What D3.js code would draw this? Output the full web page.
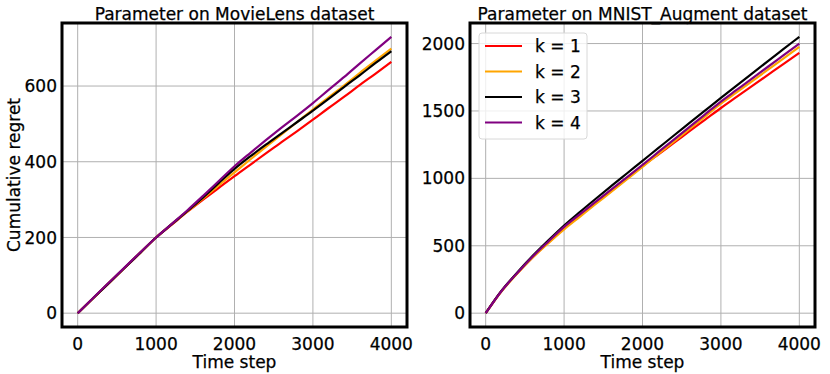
<!DOCTYPE html>
<html>
<head>
<meta charset="UTF-8">
<script src="https://d3js.org/d3.v7.min.js"></script>
<style>
body{ margin:0; background:white; }
svg text{ font-family: "DejaVu Sans", sans-serif; fill: black; stroke: black; stroke-width: 0.25px; }
</style>
</head>
<body>
<svg width="830" height="374"></svg>
<script>
// time steps, one every 200
const steps = d3.range(0, 4001, 200)

const labels = ["k = 1", "k = 2", "k = 3", "k = 4"]
const colors = ["red", "orange", "black", "purple"]

// MovieLens, cumulative regret
const movieK1 = [0, 40, 80, 120, 160, 200, 234, 268, 300, 331, 362, 392, 422, 452, 481, 511, 542, 572, 603, 633, 664]
const movieK2 = [0, 40, 80, 120, 160, 200, 235, 269, 303, 338, 372, 406, 439, 472, 505, 538, 570, 602, 635, 667, 699]
const movieK3 = [0, 40, 80, 120, 160, 200, 235, 270, 306, 344, 381, 414, 445, 475, 505, 535, 566, 598, 629, 661, 692]
const movieK4 = [0, 41, 81, 121, 161, 200, 236, 272, 310, 349, 388, 423, 457, 490, 522, 555, 590, 624, 660, 695, 730]

// MNIST_Augment, cumulative regret
const mnistK1 = [0, 163, 294, 415, 525, 630, 722, 814, 906, 998, 1090, 1177, 1263, 1350, 1436, 1522, 1604, 1686, 1768, 1850, 1931]
const mnistK2 = [0, 160, 292, 413, 520, 622, 715, 808, 900, 993, 1085, 1179, 1273, 1367, 1460, 1554, 1638, 1722, 1806, 1890, 1975]
const mnistK3 = [0, 165, 300, 425, 540, 650, 750, 847, 942, 1036, 1130, 1224, 1318, 1411, 1504, 1597, 1688, 1779, 1870, 1960, 2050]
const mnistK4 = [0, 163, 297, 420, 532, 640, 733, 825, 917, 1008, 1100, 1194, 1288, 1382, 1476, 1570, 1656, 1742, 1828, 1914, 2000]

const xTicks = [0, 1000, 2000, 3000, 4000]
const movieYTicks = [0, 200, 400, 600]
const mnistYTicks = [0, 500, 1000, 1500, 2000]

const svg = d3.select("svg")

function panel(left, title, series, yTicks, ylabel, legend){
	let w = 345, top = 23, h = 304
	let g = svg.append("g").attr("transform", "translate(" + left + "," + top + ")")

	// matplotlib style 5% margins
	let xPad = (steps[steps.length-1] - steps[0]) * 0.05
	let all = [].concat(...series)
	let yMax = d3.max(all), yMin = d3.min(all)
	let yPad = (yMax - yMin) * 0.05

	let x = d3.scaleLinear().domain([steps[0] - xPad, steps[steps.length-1] + xPad]).range([0, w])
	let y = d3.scaleLinear().domain([yMin - yPad, yMax + yPad]).range([h, 0])

	// grid
	g.selectAll(".vgrid").data(xTicks).join("line")
		.attr("x1", d => x(d)).attr("x2", d => x(d))
		.attr("y1", 0).attr("y2", h)
		.style("stroke", "#b0b0b0").style("stroke-width", 1)
	g.selectAll(".hgrid").data(yTicks).join("line")
		.attr("y1", d => y(d)).attr("y2", d => y(d))
		.attr("x1", 0).attr("x2", w)
		.style("stroke", "#b0b0b0").style("stroke-width", 1)

	let line = d3.line().x((d, i) => x(steps[i])).y(d => y(d)).curve(d3.curveMonotoneX)

	g.selectAll(".series").data(series).join("path")
		.attr("d", d => line(d))
		.style("fill", "none")
		.style("stroke", (d, i) => colors[i])
		.style("stroke-width", 2.2)
		.style("stroke-linejoin", "round")

	// tick labels
	g.selectAll(".xlab").data(xTicks).join("text")
		.attr("x", d => x(d)).attr("y", h + 22.5)
		.attr("text-anchor", "middle")
		.style("font-size", "17px")
		.text(d => d)
	g.selectAll(".ylab").data(yTicks).join("text")
		.attr("x", -5).attr("y", d => y(d))
		.attr("dy", "0.36em")
		.attr("text-anchor", "end")
		.style("font-size", "17px")
		.text(d => d)

	// title and axis labels
	svg.append("text")
		.attr("x", left + w / 2).attr("y", 19.5)
		.attr("text-anchor", "middle")
		.style("font-size", "17px")
		.text(title)

	g.append("text")
		.attr("x", w / 2).attr("y", h + 41)
		.attr("text-anchor", "middle")
		.style("font-size", "17px")
		.text("Time step")

	if (ylabel){
		g.append("text")
			.attr("transform", "translate(" + (-42) + "," + (h / 2) + ") rotate(-90)")
			.attr("text-anchor", "middle")
			.style("font-size", "17px")
			.text(ylabel)
	}

	if (legend){
		let lg = g.append("g").attr("transform", "translate(9,10)")
		lg.append("rect")
			.attr("width", 108).attr("height", 106)
			.attr("rx", 3)
			.style("fill", "white").style("fill-opacity", 0.8)
			.style("stroke", "#d8d8d8").style("stroke-width", 1)
		labels.forEach(function(l, i){
			let yy = 13 + i * 25.5
			lg.append("line")
				.attr("x1", 6).attr("x2", 43).attr("y1", yy).attr("y2", yy)
				.style("stroke", colors[i]).style("stroke-width", 2.2)
			lg.append("text")
				.attr("x", 56).attr("y", yy).attr("dy", "0.36em")
				.style("font-size", "17px")
				.text(l)
		})
	}

	// thick frame on top
	g.append("rect")
		.attr("x", 0).attr("y", 0).attr("width", w).attr("height", h)
		.style("fill", "none").style("stroke", "black").style("stroke-width", 3)
}

panel(62, "Parameter on MovieLens dataset", [movieK1, movieK2, movieK3, movieK4], movieYTicks, "Cumulative regret", false)
panel(470, "Parameter on MNIST_Augment dataset", [mnistK1, mnistK2, mnistK3, mnistK4], mnistYTicks, null, true)
</script>
</body>
</html>
